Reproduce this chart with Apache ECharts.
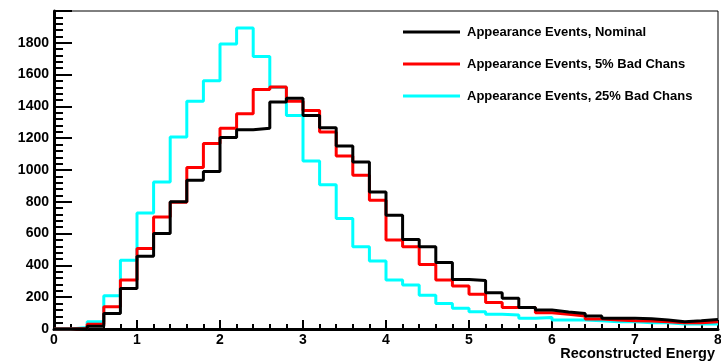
<!DOCTYPE html>
<html>
<head>
<meta charset="utf-8">
<script src="https://cdn.jsdelivr.net/npm/echarts@6/dist/echarts.min.js"></script>
<style>
  html, body { margin: 0; padding: 0; background: #fff; }
  #chart { width: 721px; height: 361px; }
</style>
</head>
<body>
<div id="chart"></div>
<script>
// 40 bins of width 0.2 from 0 to 8
const binWidth = 0.2;
const nominal = [0, 2, 18, 98, 255, 458, 600, 800, 935, 990,
  1205, 1253, 1262, 1427, 1452, 1343, 1266, 1151, 1050, 862,
  716, 563, 517, 418, 312, 305, 228, 193, 136, 119,
  107, 98, 82, 67, 67, 65, 57, 46, 52, 60];
const bad5 = [0, 3, 30, 140, 308, 506, 705, 797, 1015, 1166,
  1262, 1354, 1507, 1522, 1433, 1375, 1239, 1088, 967, 810,
  560, 517, 406, 308, 270, 218, 167, 136, 136, 102,
  92, 82, 63, 57, 52, 50, 46, 40, 40, 46];
const bad25 = [0, 10, 46, 209, 433, 730, 925, 1207, 1433, 1561,
  1793, 1893, 1714, 1520, 1343, 1057, 908, 695, 517, 427,
  308, 276, 213, 161, 130, 109, 92, 88, 67, 73,
  57, 57, 52, 46, 46, 40, 40, 31, 31, 31];
const seriesNames = ['Appearance Events, Nominal', 'Appearance Events, 5% Bad Chans', 'Appearance Events, 25% Bad Chans'];

// histogram outline: left edge of each bin, plus the right edge of the last one
function toSteps(vals) {
  const pts = vals.map((v, i) => [i * binWidth, v]);
  pts.push([vals.length * binWidth, vals[vals.length - 1]]);
  return pts;
}

const font = 'Liberation Sans, Arial, Helvetica, sans-serif';

function histo(name, vals, color, z) {
  return {
    name: name,
    type: 'line',
    step: 'end',
    data: toSteps(vals),
    symbol: 'none',
    z: z,
    color: color,
    lineStyle: { color: color, width: 3 },
    animation: false
  };
}

const chart = echarts.init(document.getElementById('chart'));
chart.setOption({
  backgroundColor: '#fff',
  animation: false,
  grid: {
    left: 54, right: 3, top: 11, bottom: 32,
    outerBoundsMode: 'none',
    containLabel: false,
    show: true, borderColor: '#000', borderWidth: 1
  },
  legend: {
    orient: 'vertical',
    left: 398,
    top: 20,
    itemWidth: 57,
    itemHeight: 3,
    itemGap: 18,
    icon: 'rect',
    data: seriesNames,
    textStyle: { fontFamily: font, fontWeight: 'bold', fontSize: 13, color: '#000', lineHeight: 14, padding: [0, 0, 0, 2] }
  },
  xAxis: {
    type: 'value',
    min: 0, max: 8, interval: 1,
    name: 'Reconstructed Energy',
    nameLocation: 'end',
    nameGap: 0,
    nameMoveOverlap: false,
    nameTextStyle: { fontFamily: font, fontWeight: 'bold', fontSize: 14.5, color: '#000', align: 'right', verticalAlign: 'top', padding: [17, 3, 0, 0] },
    axisLine: { lineStyle: { color: '#000', width: 3 } },
    axisTick: { inside: true, length: 9, lineStyle: { color: '#000', width: 2 } },
    minorTick: { show: true, splitNumber: 5, length: 5, lineStyle: { color: '#000', width: 2 } },
    splitLine: { show: false },
    axisLabel: { margin: 4, fontFamily: font, fontWeight: 'bold', fontSize: 14, color: '#000', formatter: v => String(v) }
  },
  yAxis: {
    type: 'value',
    min: 0, max: 2000, interval: 200,
    axisLine: { show: true, lineStyle: { color: '#000', width: 3 } },
    axisTick: { show: true, inside: true, length: 18, lineStyle: { color: '#000', width: 2 } },
    minorTick: { show: true, splitNumber: 5, length: 9, lineStyle: { color: '#000', width: 2 } },
    splitLine: { show: false },
    axisLabel: { showMaxLabel: false, margin: 5, fontFamily: font, fontWeight: 'bold', fontSize: 14, color: '#000', formatter: v => String(v) }
  },
  series: [
    histo(seriesNames[2], bad25, '#00ffff', 2),
    histo(seriesNames[1], bad5, '#ff0000', 3),
    histo(seriesNames[0], nominal, '#000000', 4)
  ]
});
</script>
</body>
</html>
